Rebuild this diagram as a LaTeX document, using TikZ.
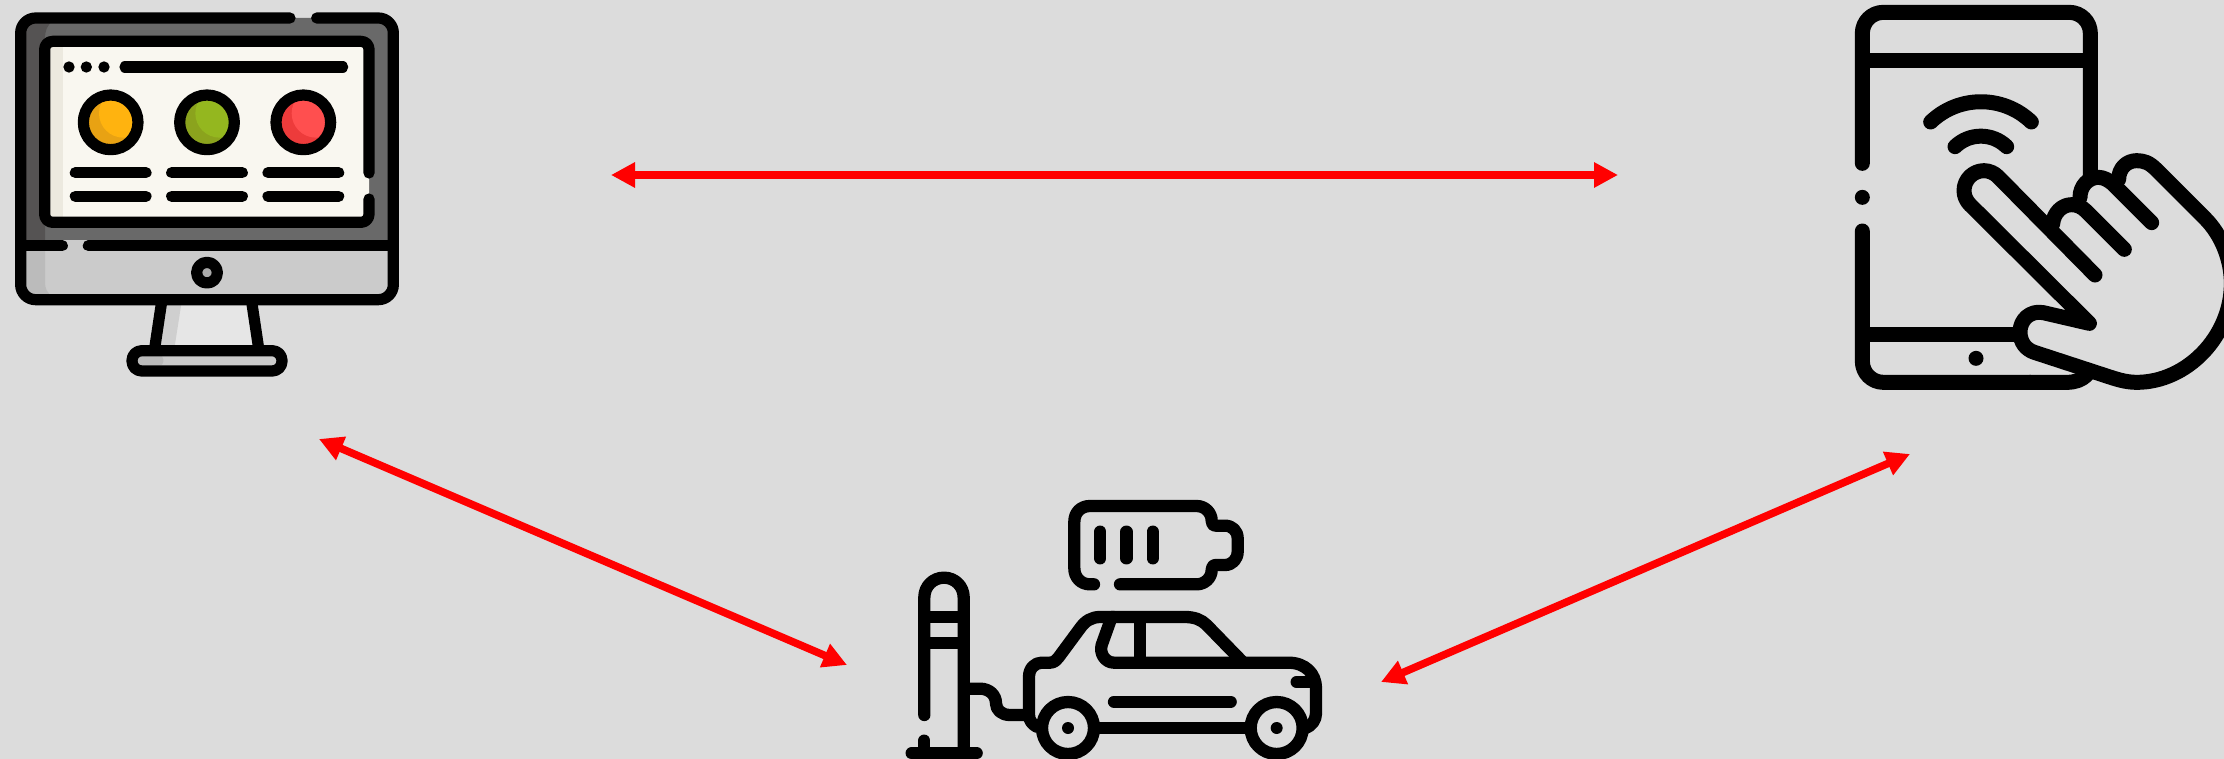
\documentclass[tikz,border=0pt]{standalone}
\usetikzlibrary{arrows.meta}
\definecolor{bgc}{HTML}{DCDCDC}
\definecolor{bezel}{HTML}{696969}
\definecolor{bezeld}{HTML}{555353}
\definecolor{chin}{HTML}{CBCBCB}
\definecolor{chind}{HTML}{BBBBBB}
\definecolor{paper}{HTML}{F9F7F0}
\definecolor{paperd}{HTML}{ECE9DF}
\definecolor{lampa}{HTML}{FFB30F}
\definecolor{lampad}{HTML}{E8A213}
\definecolor{lampb}{HTML}{94B71F}
\definecolor{lampbd}{HTML}{8BA31D}
\definecolor{lampc}{HTML}{FF4F4F}
\definecolor{lampcd}{HTML}{ED3B3B}
\definecolor{standc}{HTML}{E6E6E6}
\definecolor{standd}{HTML}{CFCFCF}
\tikzset{
  ink/.style={draw=black,line cap=round,line join=round},
  pcink/.style={ink,line width=5.6pt},
  phoneink/.style={ink,line width=7.5pt},
  carink/.style={ink,line width=6.15pt},
  link/.style={draw=red,line width=3.8pt,{Triangle[length=12pt,width=12pt]}-{Triangle[length=12pt,width=12pt]}},
  zoomunit/.style={x=0.166667pt,y=-0.166667pt}
}
\newcommand{\lampdot}[3]{%
  \begin{scope}
    \clip (#1,367) circle[radius=82];
    \fill[#3] (#1,367) circle[radius=82];
    \fill[#2] (#1+38,340) circle[radius=73];
  \end{scope}
  \draw[pcink] (#1,367) circle[radius=82];
}
\begin{document}
\begin{tikzpicture}[x=0.5pt,y=-0.5pt]
\useasboundingbox (0,0) rectangle (2224,759);
\clip (0,0) rectangle (2224,759);
\fill[bgc] (0,0) rectangle (2224,759);

% --- desktop computer ---
\begin{scope}[zoomunit]
  % stand
  \fill[standc] (485,905) -- (755,905) -- (777,1052) -- (465,1052) -- cycle;
  \fill[standd] (485,905) -- (545,905) -- (522,1052) -- (465,1052) -- cycle;
  % body fills
  \fill[bezel,rounded corners=7.5pt] (62,760) -- (62,54) -- (1180,54) -- (1180,760) -- cycle;
  \fill[bezeld] (62,737) -- (62,110) .. controls (62,75) and (100,54) .. (160,62) .. controls (140,75) and (135,95) .. (135,115) -- (135,737) -- cycle;
  \fill[chin,rounded corners=7.5pt] (62,720) -- (62,899) -- (1180,899) -- (1180,720) -- cycle;
  \fill[chin] (62,737) rectangle (1180,800);
  \fill[chind] (62,737) -- (62,840) .. controls (62,875) and (100,899) .. (160,890) .. controls (140,880) and (135,865) .. (135,845) -- (135,737) -- cycle;
  % screen
  \fill[paper,rounded corners=4pt] (134,124) rectangle (1107,667);
  \fill[paperd] (150,140) rectangle (190,650);
  % outline
  \draw[pcink,rounded corners=7.5pt] (870,54) -- (62,54) -- (62,899) -- (1180,899) -- (1180,54) -- (950,54);
  \draw[pcink] (62,737) -- (187,737);
  \draw[pcink] (265,737) -- (1180,737);
  \draw[pcink,rounded corners=4pt] (1107,519) -- (1107,124) -- (134,124) -- (134,667) -- (1107,667) -- (1107,597);
  % top of page
  \fill (207,201) circle[radius=17];
  \fill (259,201) circle[radius=17];
  \fill (312,201) circle[radius=17];
  \draw[pcink] (375,201) -- (1028,201);
  % lamps
  \lampdot{332}{lampa}{lampad}
  \lampdot{621}{lampb}{lampbd}
  \lampdot{910}{lampc}{lampcd}
  % text bars
  \foreach \yy in {518,589} {
    \draw[pcink] (226,\yy) -- (438,\yy);
    \draw[pcink] (515,\yy) -- (727,\yy);
    \draw[pcink] (804,\yy) -- (1016,\yy);
  }
  % button
  \draw[pcink,fill=black!33] (621,818) circle[radius=31];
  % stand outline and base
  \draw[pcink,line cap=butt] (485,905) -- (463,1052);
  \draw[pcink,line cap=butt] (755,905) -- (777,1052);
  \fill[chin,rounded corners=3pt] (396,1052) rectangle (846,1113);
  \fill[chind,rounded corners=2pt] (410,1066) rectangle (490,1097);
  \draw[pcink,rounded corners=4.9pt] (396,1052) rectangle (846,1113);
\end{scope}

% --- phone and hand ---
\begin{scope}[shift={(1830,0)},zoomunit]
  \draw[phoneink,rounded corners=10.5pt] (97,490) -- (97,37) -- (781,37) -- (781,525);
  \draw[phoneink,line cap=butt] (97,181) -- (781,181);
  \fill (97,592) circle[radius=22.5];
  \draw[phoneink,rounded corners=10.5pt] (97,693) -- (97,1147) -- (600,1147);
  \draw[phoneink] (600,1147) -- (710,1147) .. controls (735,1147) and (755,1140) .. (770,1125);
  \draw[phoneink,line cap=butt] (97,1003) -- (570,1003);
  \fill (438,1075) circle[radius=22.5];
  \draw[phoneink] (302,366) .. controls (386,285) and (520,285) .. (604,366);
  \draw[phoneink] (375,440) .. controls (418,398) and (487,398) .. (530,440);
  % hand
  \draw[phoneink] (795,825) -- (504,530) .. controls (493,519) and (478,512) .. (462,512)
     .. controls (429,512) and (402,539) .. (402,572) .. controls (402,588) and (409,603) .. (420,614)
     -- (778,970) -- (640,938)
     .. controls (600,930) and (570,960) .. (570,995) .. controls (570,1030) and (590,1048) .. (610,1056)
     -- (830,1128) .. controls (855,1136) and (885,1147) .. (920,1147)
     .. controls (1070,1147) and (1204,1010) .. (1204,850)
     .. controls (1204,780) and (1175,705) .. (1125,655) -- (978,508)
     .. controls (958,488) and (942,482) .. (920,482) .. controls (890,482) and (866,505) .. (866,538);
  \draw[phoneink] (883,748) -- (768,633) .. controls (755,620) and (740,614) .. (725,614) .. controls (695,614) and (670,640) .. (668,672);
  \draw[phoneink] (965,668) -- (848,551) .. controls (835,540) and (820,532) .. (805,532) .. controls (775,532) and (750,558) .. (750,592);
\end{scope}

% --- charging post, car and battery ---
\begin{scope}[shift={(890,480)},zoomunit]
  % battery
  \draw[carink] (612,313) -- (600,313) .. controls (572,313) and (553,292) .. (553,265) -- (553,125)
     .. controls (553,98) and (572,78) .. (600,78) -- (920,78) .. controls (945,78) and (965,98) .. (965,122)
     .. controls (965,130) and (968,137) .. (978,137) -- (1005,137) .. controls (1027,137) and (1043,153) .. (1043,175)
     -- (1043,215) .. controls (1043,237) and (1027,255) .. (1005,255) -- (978,255)
     .. controls (968,255) and (965,262) .. (965,270) .. controls (965,293) and (945,313) .. (920,313) -- (690,313);
  \draw[carink] (631,155) -- (631,235);
  \draw[carink] (709,155) -- (709,235);
  \draw[carink] (788,155) -- (788,235);
  % post
  \draw[carink] (103,705) -- (103,352) .. controls (103,319) and (129,293) .. (162,293) .. controls (195,293) and (221,319) .. (221,352) -- (221,815);
  \draw[carink,line cap=butt] (103,411) -- (221,411);
  \draw[carink,line cap=butt] (103,489) -- (221,489);
  \draw[carink] (65,820) -- (260,820);
  \draw[carink] (103,782) -- (103,820);
  % cable
  \draw[carink,line cap=butt] (221,626) -- (270,626) .. controls (298,626) and (318,645) .. (318,670) .. controls (318,690) and (335,705) .. (360,705) -- (417,705);
  % car body
  \draw[carink] (440,740) .. controls (425,732) and (417,720) .. (417,705) -- (417,590) .. controls (417,565) and (435,548) .. (455,548)
     -- (480,548) .. controls (492,548) and (500,540) .. (505,533) -- (570,445) .. controls (585,423) and (605,411) .. (630,411)
     -- (885,411) .. controls (915,411) and (935,420) .. (950,435) -- (1060,548);
  \draw[carink] (672,411) -- (665,411) -- (635,495) .. controls (628,520) and (645,548) .. (672,548) -- (1195,548)
     .. controls (1245,548) and (1278,580) .. (1278,625) -- (1278,700) .. controls (1278,720) and (1265,738) .. (1245,745);
  \draw[carink,line cap=butt] (749,411) -- (749,548);
  \draw[carink] (1220,606) -- (1262,606);
  \draw[carink] (672,665) -- (1022,665);
  \draw[carink,line cap=butt] (620,744) -- (1075,744);
  \draw[carink] (534,744) circle[radius=78];
  \draw[carink] (1160,744) circle[radius=78];
  \fill (534,744) circle[radius=18];
  \fill (1160,744) circle[radius=18];
\end{scope}

% --- links ---
\coordinate (pcright) at (611,175);
\coordinate (phoneleft) at (1618,175);
\coordinate (pclow) at (319,439);
\coordinate (carleft) at (847,665);
\coordinate (carright) at (1381,682);
\coordinate (phonelow) at (1910,454);
\draw[link] (pcright) -- (phoneleft);
\draw[link] (pclow) -- (carleft);
\draw[link] (carright) -- (phonelow);
\end{tikzpicture}
\end{document}
